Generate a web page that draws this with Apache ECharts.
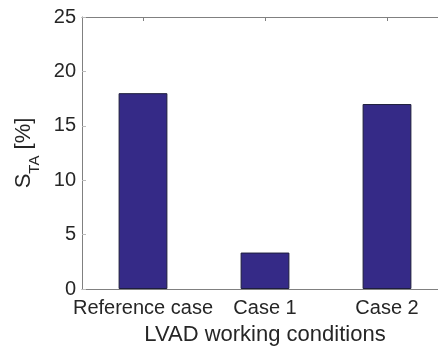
<!DOCTYPE html>
<html>
<head>
<meta charset="utf-8">
<script src="https://cdn.jsdelivr.net/npm/echarts@6/dist/echarts.min.js"></script>
<style>
html,body{margin:0;padding:0;background:#fff;}
#chart{width:438px;height:347px;}
</style>
</head>
<body>
<div id="chart"></div>
<script>
const categories = ['Reference case', 'Case 1', 'Case 2'];
const values = [18, 3.35, 17];
const yTicks = { min: 0, max: 25, interval: 5 };
const xTitle = 'LVAD working conditions';

const txt = '#262626';
const axisCol = '#808080';
const FONT = 'Liberation Sans, Arial, sans-serif';

const chart = echarts.init(document.getElementById('chart'));
chart.setOption({
  animation: false,
  backgroundColor: '#ffffff',
  grid: { left: 82, top: 17, width: 366, height: 272, containLabel: false, outerBoundsMode: 'none' },
  xAxis: [{
    type: 'category',
    data: categories,
    position: 'bottom',
    axisLine: { lineStyle: { color: axisCol, width: 1 } },
    axisTick: { show: true, inside: true, alignWithLabel: true, length: 4, lineStyle: { color: axisCol } },
    axisLabel: { color: txt, fontSize: 20, fontFamily: FONT, margin: 9, interval: 0 },
    name: xTitle,
    nameLocation: 'middle',
    nameGap: 35,
    nameTextStyle: { color: txt, fontSize: 22, fontFamily: FONT }
  }, {
    type: 'category',
    data: categories,
    position: 'top',
    axisLine: { lineStyle: { color: axisCol, width: 1 } },
    axisTick: { show: true, inside: true, alignWithLabel: true, length: 4, lineStyle: { color: axisCol } },
    axisLabel: { show: false }
  }],
  yAxis: {
    type: 'value',
    min: yTicks.min, max: yTicks.max, interval: yTicks.interval,
    axisLine: { show: true, lineStyle: { color: axisCol, width: 1 } },
    axisTick: { show: true, inside: true, length: 4, lineStyle: { color: '#bbbbbb' } },
    splitLine: { show: false },
    axisLabel: { color: txt, fontSize: 20, fontFamily: FONT, margin: 6 },
    name: '{a|S}{b|TA}{a| [%]}',
    nameLocation: 'middle',
    nameRotate: 90,
    nameGap: 32,
    nameTextStyle: {
      color: txt, fontFamily: FONT,
      rich: {
        a: { fontSize: 22, lineHeight: 22, verticalAlign: 'top', color: txt, fontFamily: FONT },
        b: { fontSize: 15, lineHeight: 30, verticalAlign: 'bottom', color: txt, fontFamily: FONT }
      }
    }
  },
  series: [{
    type: 'bar',
    data: values,
    barWidth: '40%',
    itemStyle: { color: '#352a87', borderColor: '#1e1e3c', borderWidth: 1 }
  }]
});
</script>
</body>
</html>
